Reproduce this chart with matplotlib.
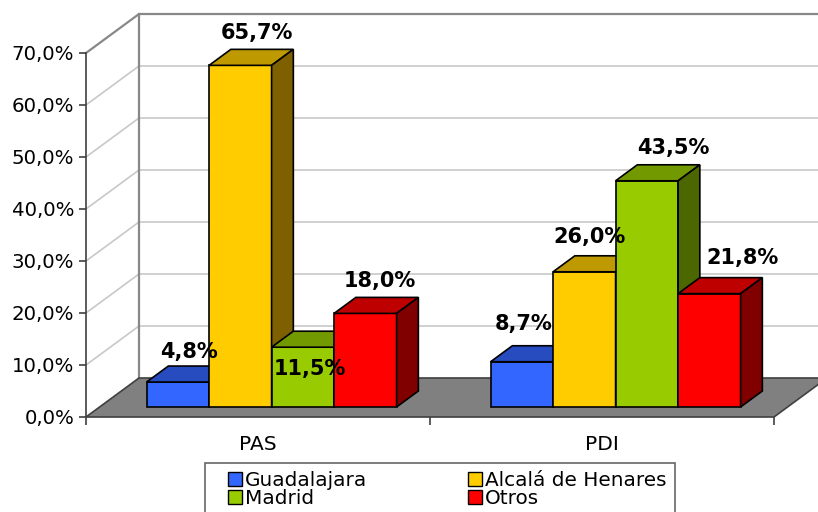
import numpy as np
import matplotlib.pyplot as plt
from matplotlib.patches import Polygon
from matplotlib.lines import Line2D

categorias = ['PAS', 'PDI']
series = ['Guadalajara', 'Alcalá de Henares', 'Madrid', 'Otros']
guadalajara = [4.8, 8.7]
alcala = [65.7, 26.0]
madrid = [11.5, 43.5]
otros = [18.0, 21.8]
valores = [guadalajara, alcala, madrid, otros]
y_ticks = [0, 10, 20, 30, 40, 50, 60, 70]

# colores: frente, arriba, lado
cores = [('#3366FF', '#264CBF', '#193380'),
         ('#FFCC00', '#BF9900', '#7F6000'),
         ('#99CC00', '#739900', '#4C6600'),
         ('#FF0000', '#BF0000', '#800000')]

# ajustes de las etiquetas (pixels, respecto al centro del frente)
label_dx = [[11, 2], [17, 5], [7, 26], [14, 33]]
label_dy = [[8, 16], [10, 13], [-44, 11], [10, 14]]

plt.rcParams['font.family'] = 'DejaVu Sans'

fig = plt.figure(figsize=(8.18, 5.12), dpi=100)
ax = fig.add_axes([86 / 818, 95 / 512, 688 / 818, 364 / 512])
ax.set_xlim(0, 2)
ax.set_ylim(0, 70)

# vector de profundidad (perspectiva oblicua)
dep_x, dep_y = 53 / 344, 7.5
f0, f1 = 10 / 39, 26 / 39
ancho = 0.1817

# paredes
pared_lado = Polygon([(0, 0), (0, 70), (dep_x, 70 + dep_y), (dep_x, dep_y)],
                     closed=True, facecolor='white', edgecolor='none', clip_on=False, zorder=0)
ax.add_patch(pared_lado)
x_der = 2 + dep_x
for v in y_ticks[1:-1]:
    ax.plot([0, dep_x], [v, v + dep_y], color='#c8c8c8', lw=1.2, clip_on=False, zorder=1)
    ax.plot([dep_x, x_der], [v + dep_y, v + dep_y], color='#c8c8c8', lw=1.2, clip_on=False, zorder=1)
ax.plot([0, dep_x, x_der], [70, 70 + dep_y, 70 + dep_y], color='#888888', lw=1.6, clip_on=False, zorder=1)
ax.plot([dep_x, dep_x], [dep_y, 70 + dep_y], color='#888888', lw=1.6, clip_on=False, zorder=1)

# suelo
suelo = Polygon([(0, 0), (2, 0), (2 + dep_x, dep_y), (dep_x, dep_y)], closed=True,
                facecolor='#808080', edgecolor='#404040', lw=1.2, clip_on=False, zorder=2)
ax.add_patch(suelo)

# barras
z = 3
for c in range(len(categorias)):
    base_x = c + 0.5 + f0 * dep_x - 2 * ancho
    y0 = f0 * dep_y
    bdx = (f1 - f0) * dep_x
    bdy = (f1 - f0) * dep_y
    for i, vals in enumerate(valores):
        v = vals[c]
        x0 = base_x + i * ancho
        x1 = x0 + ancho
        top = y0 + v
        frente, arriba, lado = cores[i]
        ax.add_patch(Polygon([(x0, y0), (x1, y0), (x1, top), (x0, top)], closed=True,
                             facecolor=frente, edgecolor='black', lw=1.2, clip_on=False, zorder=z))
        ax.add_patch(Polygon([(x0, top), (x1, top), (x1 + bdx, top + bdy), (x0 + bdx, top + bdy)],
                             closed=True, facecolor=arriba, edgecolor='black', lw=1.2,
                             clip_on=False, zorder=z))
        ax.add_patch(Polygon([(x1, y0), (x1 + bdx, y0 + bdy), (x1 + bdx, top + bdy), (x1, top)],
                             closed=True, facecolor=lado, edgecolor='black', lw=1.2,
                             clip_on=False, zorder=z))
        z += 1
        etiqueta = f'{v:.1f}%'.replace('.', ',')
        ax.annotate(etiqueta, (x0 + ancho / 2, top + bdy),
                    xytext=(label_dx[i][c], label_dy[i][c]), textcoords='offset pixels',
                    ha='center', va='baseline', fontsize=15, fontweight='bold',
                    zorder=50, annotation_clip=False)

# ejes
for s in ['top', 'right']:
    ax.spines[s].set_visible(False)
ax.spines['left'].set_color('#404040')
ax.spines['left'].set_linewidth(1.2)
ax.spines['bottom'].set_visible(False)
ax.patch.set_visible(False)
ax.set_yticks(y_ticks)
ax.set_yticklabels([f'{t:.1f}%'.replace('.', ',') for t in y_ticks], fontsize=14.2)
ax.tick_params(axis='y', length=5, width=1.2, color='#404040', pad=3.5)
ax.set_xticks([0, 1, 2])
ax.set_xticklabels([])
ax.set_xticks([0.5, 1.5], minor=True)
ax.set_xticklabels(categorias, minor=True, fontsize=14.5)
ax.tick_params(axis='x', which='major', length=6, width=1.2, color='#404040')
ax.tick_params(axis='x', which='minor', length=0, pad=13)

# leyenda
handles = [Line2D([], [], marker='s', linestyle='none', markersize=10,
                  markerfacecolor=cores[i][0], markeredgecolor='black', markeredgewidth=1)
           for i in range(4)]
orden = [0, 2, 1, 3]
leg = fig.legend([handles[i] for i in orden], [series[i] for i in orden],
                 loc='upper left', bbox_to_anchor=(205 / 818, 1 - 463 / 512), ncol=2,
                 fontsize=14.4, frameon=True, fancybox=False, borderaxespad=0,
                 handlelength=2.15, handletextpad=-0.55, columnspacing=4.3,
                 labelspacing=-0.05, borderpad=0.4)
leg.get_frame().set_edgecolor('#404040')
leg.get_frame().set_linewidth(1.2)

fig.savefig('out.png', dpi=100)
